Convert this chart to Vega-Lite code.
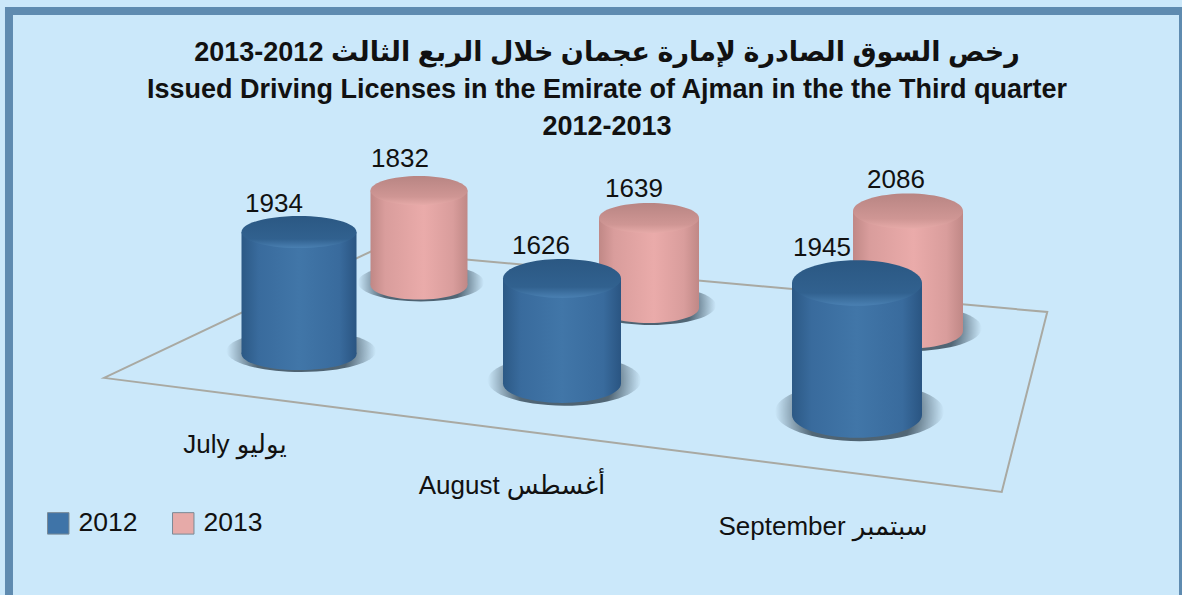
{"$schema":"https://vega.github.io/schema/vega-lite/v6.json","width":1182,"height":595,"padding":0,"autosize":"none","background":"#cbe8fa","config":{"axis":{"disable":true},"view":{"stroke":null},"text":{"font":"Liberation Sans, DejaVu Sans","color":"#111111"},"legend":{"labelFont":"Liberation Sans"}},"title":{"text":["2013-2012 رخص السوق الصادرة لإمارة عجمان خلال الربع الثالث","Issued Driving Licenses in the Emirate of Ajman in the the Third quarter","2012-2013"],"font":"Liberation Sans, DejaVu Sans","fontSize":27,"fontWeight":"bold","color":"#111111","lineHeight":37,"anchor":"middle","baseline":"top","offset":-146,"dx":16},"data":{"values":[{"month":"July","year":"2012","value":1934},{"month":"July","year":"2013","value":1832},{"month":"August","year":"2012","value":1626},{"month":"August","year":"2013","value":1639},{"month":"September","year":"2012","value":1945},{"month":"September","year":"2013","value":2086}]},"resolve":{"scale":{"x":"independent","y":"independent"}},"layer":[{"transform":[{"filter":"datum.month==='August' && datum.year==='2012'"}],"encoding":{"x":{"field":"month","type":"nominal","scale":{"type":"point","padding":0,"domain":["August"],"range":[0,1182]}},"y":{"field":"month","type":"nominal","scale":{"type":"point","padding":0,"domain":["August"],"range":[0,595]}}},"layer":[{"mark":{"type":"point","filled":false,"opacity":1,"size":1397124,"stroke":"#a9a9a2","strokeWidth":2,"shape":"M-0.824,0.136L0.695,0.329L0.772,0.0245L-0.3706,-0.0787Z"}},{"mark":{"type":"point","filled":false,"opacity":1,"size":1397124,"stroke":"#5f8bb0","strokeWidth":8,"shape":"M-0.9848,-0.4848L1.0017,-0.4848L1.0017,0.53L-0.9848,0.53Z"}}]},{"encoding":{"x":{"field":"month","type":"nominal","scale":{"type":"point","padding":0,"domain":["July","August","September"],"range":[235,823]}},"y":{"field":"month","type":"nominal","scale":{"type":"point","padding":0,"domain":["July","August","September"],"range":[445,527]}}},"transform":[{"filter":"datum.year==='2012'"}],"layer":[{"transform":[{"filter":"datum.month==='July'"}],"mark":{"type":"text","fontSize":26,"baseline":"middle","text":"July يوليو"}},{"transform":[{"filter":"datum.month==='August'"}],"mark":{"type":"text","fontSize":26,"baseline":"middle","dx":-17,"text":"August أغسطس"}},{"transform":[{"filter":"datum.month==='September'"}],"mark":{"type":"text","fontSize":26,"baseline":"middle","text":"September سبتمبر"}}]},{"transform":[{"filter":"datum.month==='July' && datum.year==='2013'"}],"encoding":{"x":{"field":"year","type":"nominal","scale":{"type":"point","padding":0,"domain":["2012","2013"],"range":[299,419]}},"y":{"field":"value","type":"quantitative","scale":{"domain":[0,1832],"range":[285,190.5]}}},"layer":[{"mark":{"type":"point","filled":true,"opacity":1,"size":1},"encoding":{"color":{"field":"year","type":"nominal","scale":{"domain":["2012","2013"],"range":["#3f74a8","#e6aaa8"]},"legend":{"title":null,"orient":"none","legendX":45,"legendY":510,"direction":"horizontal","symbolType":"square","symbolSize":460,"symbolStrokeColor":"#7a8a96","symbolStrokeWidth":1,"labelFontSize":26.5,"labelColor":"#111111","labelOffset":7,"columnPadding":32}}}},{"encoding":{"y":{"datum":0,"type":"quantitative"}},"mark":{"type":"point","filled":true,"opacity":1,"size":15900,"shape":"M-0.97,-0.04A1,0.3,0,1,1,1.03,-0.04A1,0.3,0,1,1,-0.97,-0.04Z","fill":{"gradient":"radial","x1":0.5,"y1":0.5,"r1":0,"x2":0.5,"y2":0.5,"r2":0.5,"stops":[{"offset":0,"color":"rgba(60,80,95,0.9)"},{"offset":0.62,"color":"rgba(60,80,95,0.85)"},{"offset":1,"color":"rgba(60,80,95,0)"}]}}},{"encoding":{"y":{"datum":0,"type":"quantitative"}},"mark":{"type":"point","filled":true,"opacity":1,"size":9409,"shape":"M-1,0A1,0.3,0,1,1,1,0A1,0.3,0,1,1,-1,0Z","fill":{"x1":0,"y1":0,"x2":1,"y2":0,"gradient":"linear","stops":[{"offset":0,"color":"#c08886"},{"offset":0.15,"color":"#d99d9c"},{"offset":0.55,"color":"#eaabaa"},{"offset":0.85,"color":"#d99d9c"},{"offset":1,"color":"#c08886"}]}}},{"mark":{"type":"bar","width":97,"fill":{"x1":0,"y1":0,"x2":1,"y2":0,"gradient":"linear","stops":[{"offset":0,"color":"#c08886"},{"offset":0.15,"color":"#d99d9c"},{"offset":0.55,"color":"#eaabaa"},{"offset":0.85,"color":"#d99d9c"},{"offset":1,"color":"#c08886"}]}}},{"mark":{"type":"point","filled":true,"opacity":1,"size":9409,"shape":"M-1,0A1,0.3,0,1,1,1,0A1,0.3,0,1,1,-1,0Z","fill":{"x1":0,"y1":0,"x2":0,"y2":1,"gradient":"linear","stops":[{"offset":0,"color":"#b88583"},{"offset":0.72,"color":"#cf9694"},{"offset":1,"color":"#e6aaa8"}]}}},{"mark":{"type":"text","fontSize":26,"baseline":"middle","dx":-19,"dy":-31.5},"encoding":{"text":{"field":"value","type":"quantitative","format":"d"}}}]},{"transform":[{"filter":"datum.month==='August' && datum.year==='2013'"}],"encoding":{"x":{"field":"year","type":"nominal","scale":{"type":"point","padding":0,"domain":["2012","2013"],"range":[562,649]}},"y":{"field":"value","type":"quantitative","scale":{"domain":[0,1639],"range":[308,218]}}},"layer":[{"encoding":{"y":{"datum":0,"type":"quantitative"}},"mark":{"type":"point","filled":true,"opacity":1,"size":16900,"shape":"M-0.97,-0.04A1,0.3,0,1,1,1.03,-0.04A1,0.3,0,1,1,-0.97,-0.04Z","fill":{"gradient":"radial","x1":0.5,"y1":0.5,"r1":0,"x2":0.5,"y2":0.5,"r2":0.5,"stops":[{"offset":0,"color":"rgba(60,80,95,0.9)"},{"offset":0.62,"color":"rgba(60,80,95,0.85)"},{"offset":1,"color":"rgba(60,80,95,0)"}]}}},{"encoding":{"y":{"datum":0,"type":"quantitative"}},"mark":{"type":"point","filled":true,"opacity":1,"size":10000,"shape":"M-1,0A1,0.3,0,1,1,1,0A1,0.3,0,1,1,-1,0Z","fill":{"x1":0,"y1":0,"x2":1,"y2":0,"gradient":"linear","stops":[{"offset":0,"color":"#c08886"},{"offset":0.15,"color":"#d99d9c"},{"offset":0.55,"color":"#eaabaa"},{"offset":0.85,"color":"#d99d9c"},{"offset":1,"color":"#c08886"}]}}},{"mark":{"type":"bar","width":100,"fill":{"x1":0,"y1":0,"x2":1,"y2":0,"gradient":"linear","stops":[{"offset":0,"color":"#c08886"},{"offset":0.15,"color":"#d99d9c"},{"offset":0.55,"color":"#eaabaa"},{"offset":0.85,"color":"#d99d9c"},{"offset":1,"color":"#c08886"}]}}},{"mark":{"type":"point","filled":true,"opacity":1,"size":10000,"shape":"M-1,0A1,0.3,0,1,1,1,0A1,0.3,0,1,1,-1,0Z","fill":{"x1":0,"y1":0,"x2":0,"y2":1,"gradient":"linear","stops":[{"offset":0,"color":"#b88583"},{"offset":0.72,"color":"#cf9694"},{"offset":1,"color":"#e6aaa8"}]}}},{"mark":{"type":"text","fontSize":26,"baseline":"middle","dx":-15,"dy":-29},"encoding":{"text":{"field":"value","type":"quantitative","format":"d"}}}]},{"transform":[{"filter":"datum.month==='September' && datum.year==='2013'"}],"encoding":{"x":{"field":"year","type":"nominal","scale":{"type":"point","padding":0,"domain":["2012","2013"],"range":[857,908]}},"y":{"field":"value","type":"quantitative","scale":{"domain":[0,2086],"range":[331,211]}}},"layer":[{"encoding":{"y":{"datum":0,"type":"quantitative"}},"mark":{"type":"point","filled":true,"opacity":1,"size":20449,"shape":"M-0.97,-0.04A1,0.32,0,1,1,1.03,-0.04A1,0.32,0,1,1,-0.97,-0.04Z","fill":{"gradient":"radial","x1":0.5,"y1":0.5,"r1":0,"x2":0.5,"y2":0.5,"r2":0.5,"stops":[{"offset":0,"color":"rgba(60,80,95,0.9)"},{"offset":0.62,"color":"rgba(60,80,95,0.85)"},{"offset":1,"color":"rgba(60,80,95,0)"}]}}},{"encoding":{"y":{"datum":0,"type":"quantitative"}},"mark":{"type":"point","filled":true,"opacity":1,"size":12100,"shape":"M-1,0A1,0.32,0,1,1,1,0A1,0.32,0,1,1,-1,0Z","fill":{"x1":0,"y1":0,"x2":1,"y2":0,"gradient":"linear","stops":[{"offset":0,"color":"#c08886"},{"offset":0.15,"color":"#d99d9c"},{"offset":0.55,"color":"#eaabaa"},{"offset":0.85,"color":"#d99d9c"},{"offset":1,"color":"#c08886"}]}}},{"mark":{"type":"bar","width":110,"fill":{"x1":0,"y1":0,"x2":1,"y2":0,"gradient":"linear","stops":[{"offset":0,"color":"#c08886"},{"offset":0.15,"color":"#d99d9c"},{"offset":0.55,"color":"#eaabaa"},{"offset":0.85,"color":"#d99d9c"},{"offset":1,"color":"#c08886"}]}}},{"mark":{"type":"point","filled":true,"opacity":1,"size":12100,"shape":"M-1,0A1,0.32,0,1,1,1,0A1,0.32,0,1,1,-1,0Z","fill":{"x1":0,"y1":0,"x2":0,"y2":1,"gradient":"linear","stops":[{"offset":0,"color":"#b88583"},{"offset":0.72,"color":"#cf9694"},{"offset":1,"color":"#e6aaa8"}]}}},{"mark":{"type":"text","fontSize":26,"baseline":"middle","dx":-12,"dy":-31},"encoding":{"text":{"field":"value","type":"quantitative","format":"d"}}}]},{"transform":[{"filter":"datum.month==='July' && datum.year==='2012'"}],"encoding":{"x":{"field":"year","type":"nominal","scale":{"type":"point","padding":0,"domain":["2012","2013"],"range":[299,419]}},"y":{"field":"value","type":"quantitative","scale":{"domain":[0,1934],"range":[354,232]}}},"layer":[{"encoding":{"y":{"datum":0,"type":"quantitative"}},"mark":{"type":"point","filled":true,"opacity":1,"size":22350,"shape":"M-0.97,-0.04A1,0.28,0,1,1,1.03,-0.04A1,0.28,0,1,1,-0.97,-0.04Z","fill":{"gradient":"radial","x1":0.5,"y1":0.5,"r1":0,"x2":0.5,"y2":0.5,"r2":0.5,"stops":[{"offset":0,"color":"rgba(60,80,95,0.9)"},{"offset":0.62,"color":"rgba(60,80,95,0.85)"},{"offset":1,"color":"rgba(60,80,95,0)"}]}}},{"encoding":{"y":{"datum":0,"type":"quantitative"}},"mark":{"type":"point","filled":true,"opacity":1,"size":13225,"shape":"M-1,0A1,0.28,0,1,1,1,0A1,0.28,0,1,1,-1,0Z","fill":{"x1":0,"y1":0,"x2":1,"y2":0,"gradient":"linear","stops":[{"offset":0,"color":"#2c5985"},{"offset":0.15,"color":"#396b9d"},{"offset":0.5,"color":"#4176a8"},{"offset":0.85,"color":"#396b9d"},{"offset":1,"color":"#2a5582"}]}}},{"mark":{"type":"bar","width":115,"fill":{"x1":0,"y1":0,"x2":1,"y2":0,"gradient":"linear","stops":[{"offset":0,"color":"#2c5985"},{"offset":0.15,"color":"#396b9d"},{"offset":0.5,"color":"#4176a8"},{"offset":0.85,"color":"#396b9d"},{"offset":1,"color":"#2a5582"}]}}},{"mark":{"type":"point","filled":true,"opacity":1,"size":13225,"shape":"M-1,0A1,0.28,0,1,1,1,0A1,0.28,0,1,1,-1,0Z","fill":{"x1":0,"y1":0,"x2":0,"y2":1,"gradient":"linear","stops":[{"offset":0,"color":"#2b5883"},{"offset":0.72,"color":"#31618f"},{"offset":1,"color":"#4a80b2"}]}}},{"mark":{"type":"text","fontSize":26,"baseline":"middle","dx":-25,"dy":-28},"encoding":{"text":{"field":"value","type":"quantitative","format":"d"}}}]},{"transform":[{"filter":"datum.month==='August' && datum.year==='2012'"}],"encoding":{"x":{"field":"year","type":"nominal","scale":{"type":"point","padding":0,"domain":["2012","2013"],"range":[562,649]}},"y":{"field":"value","type":"quantitative","scale":{"domain":[0,1626],"range":[383.5,278.5]}}},"layer":[{"encoding":{"y":{"datum":0,"type":"quantitative"}},"mark":{"type":"point","filled":true,"opacity":1,"size":23532,"shape":"M-0.97,-0.04A1,0.33,0,1,1,1.03,-0.04A1,0.33,0,1,1,-0.97,-0.04Z","fill":{"gradient":"radial","x1":0.5,"y1":0.5,"r1":0,"x2":0.5,"y2":0.5,"r2":0.5,"stops":[{"offset":0,"color":"rgba(60,80,95,0.9)"},{"offset":0.62,"color":"rgba(60,80,95,0.85)"},{"offset":1,"color":"rgba(60,80,95,0)"}]}}},{"encoding":{"y":{"datum":0,"type":"quantitative"}},"mark":{"type":"point","filled":true,"opacity":1,"size":13924,"shape":"M-1,0A1,0.33,0,1,1,1,0A1,0.33,0,1,1,-1,0Z","fill":{"x1":0,"y1":0,"x2":1,"y2":0,"gradient":"linear","stops":[{"offset":0,"color":"#2c5985"},{"offset":0.15,"color":"#396b9d"},{"offset":0.5,"color":"#4176a8"},{"offset":0.85,"color":"#396b9d"},{"offset":1,"color":"#2a5582"}]}}},{"mark":{"type":"bar","width":118,"fill":{"x1":0,"y1":0,"x2":1,"y2":0,"gradient":"linear","stops":[{"offset":0,"color":"#2c5985"},{"offset":0.15,"color":"#396b9d"},{"offset":0.5,"color":"#4176a8"},{"offset":0.85,"color":"#396b9d"},{"offset":1,"color":"#2a5582"}]}}},{"mark":{"type":"point","filled":true,"opacity":1,"size":13924,"shape":"M-1,0A1,0.33,0,1,1,1,0A1,0.33,0,1,1,-1,0Z","fill":{"x1":0,"y1":0,"x2":0,"y2":1,"gradient":"linear","stops":[{"offset":0,"color":"#2b5883"},{"offset":0.72,"color":"#31618f"},{"offset":1,"color":"#4a80b2"}]}}},{"mark":{"type":"text","fontSize":26,"baseline":"middle","dx":-21,"dy":-32.5},"encoding":{"text":{"field":"value","type":"quantitative","format":"d"}}}]},{"transform":[{"filter":"datum.month==='September' && datum.year==='2012'"}],"encoding":{"x":{"field":"year","type":"nominal","scale":{"type":"point","padding":0,"domain":["2012","2013"],"range":[857,908]}},"y":{"field":"value","type":"quantitative","scale":{"domain":[0,1945],"range":[415,283]}}},"layer":[{"encoding":{"y":{"datum":0,"type":"quantitative"}},"mark":{"type":"point","filled":true,"opacity":1,"size":28561,"shape":"M-0.97,-0.04A1,0.35,0,1,1,1.03,-0.04A1,0.35,0,1,1,-0.97,-0.04Z","fill":{"gradient":"radial","x1":0.5,"y1":0.5,"r1":0,"x2":0.5,"y2":0.5,"r2":0.5,"stops":[{"offset":0,"color":"rgba(60,80,95,0.9)"},{"offset":0.62,"color":"rgba(60,80,95,0.85)"},{"offset":1,"color":"rgba(60,80,95,0)"}]}}},{"encoding":{"y":{"datum":0,"type":"quantitative"}},"mark":{"type":"point","filled":true,"opacity":1,"size":16900,"shape":"M-1,0A1,0.35,0,1,1,1,0A1,0.35,0,1,1,-1,0Z","fill":{"x1":0,"y1":0,"x2":1,"y2":0,"gradient":"linear","stops":[{"offset":0,"color":"#2c5985"},{"offset":0.15,"color":"#396b9d"},{"offset":0.5,"color":"#4176a8"},{"offset":0.85,"color":"#396b9d"},{"offset":1,"color":"#2a5582"}]}}},{"mark":{"type":"bar","width":130,"fill":{"x1":0,"y1":0,"x2":1,"y2":0,"gradient":"linear","stops":[{"offset":0,"color":"#2c5985"},{"offset":0.15,"color":"#396b9d"},{"offset":0.5,"color":"#4176a8"},{"offset":0.85,"color":"#396b9d"},{"offset":1,"color":"#2a5582"}]}}},{"mark":{"type":"point","filled":true,"opacity":1,"size":16900,"shape":"M-1,0A1,0.35,0,1,1,1,0A1,0.35,0,1,1,-1,0Z","fill":{"x1":0,"y1":0,"x2":0,"y2":1,"gradient":"linear","stops":[{"offset":0,"color":"#2b5883"},{"offset":0.72,"color":"#31618f"},{"offset":1,"color":"#4a80b2"}]}}},{"mark":{"type":"text","fontSize":26,"baseline":"middle","dx":-35,"dy":-35},"encoding":{"text":{"field":"value","type":"quantitative","format":"d"}}}]}]}
